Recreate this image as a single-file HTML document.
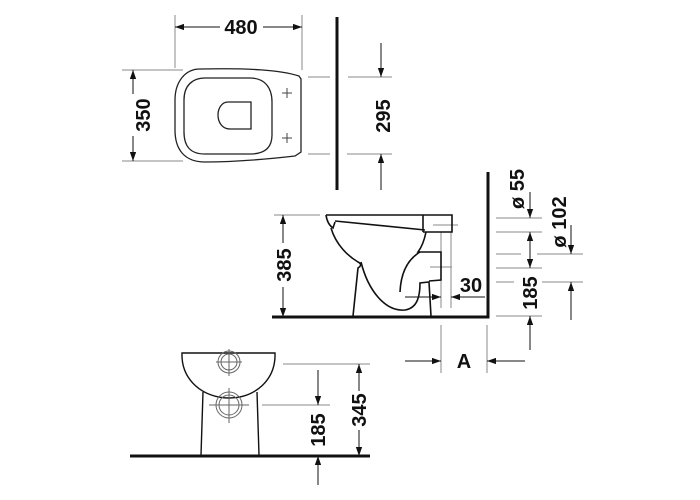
<!DOCTYPE html>
<html><head><meta charset="utf-8"><style>
html,body{margin:0;padding:0;background:#fff;}
svg{display:block}
text{font-family:"Liberation Sans",sans-serif;font-size:20px;font-weight:bold;fill:#111;}
</style></head><body>
<svg width="700" height="500" viewBox="0 0 700 500" xmlns="http://www.w3.org/2000/svg">
<defs>
<marker id="a" viewBox="0 0 10 10" refX="10" refY="5" markerWidth="9" markerHeight="9" markerUnits="userSpaceOnUse" orient="auto-start-reverse"><path d="M0,1.5 L10,5 L0,8.5 z" fill="#111"/></marker>
</defs>
<g fill="none" stroke="#888" stroke-width="1">
<line x1="175" y1="15" x2="175" y2="68"/><line x1="302" y1="15" x2="302" y2="70"/>
<line x1="122" y1="70" x2="183" y2="70"/><line x1="122" y1="161" x2="183" y2="161"/>
<line x1="308" y1="77" x2="330" y2="77"/><line x1="348" y1="77" x2="392" y2="77"/>
<line x1="308" y1="154" x2="330" y2="154"/><line x1="347" y1="154" x2="392" y2="154"/>
<line x1="274" y1="215" x2="320" y2="215"/>
<line x1="496" y1="218" x2="542" y2="218"/><line x1="496" y1="232" x2="542" y2="232"/>
<line x1="496" y1="254" x2="521" y2="254"/><line x1="537" y1="254" x2="583" y2="254"/>
<line x1="496" y1="268" x2="542" y2="268"/>
<line x1="496" y1="282" x2="514" y2="282"/><line x1="542" y1="282" x2="583" y2="282"/>
<line x1="496" y1="316" x2="542" y2="316"/>
<line x1="441" y1="325" x2="441" y2="373"/><line x1="487" y1="325" x2="487" y2="373"/>
<line x1="441" y1="232" x2="441" y2="308"/><line x1="451" y1="232" x2="451" y2="308"/>
<line x1="433" y1="225" x2="458" y2="225"/><line x1="430" y1="267" x2="452" y2="267"/>
<line x1="283" y1="364" x2="370" y2="364"/><line x1="262" y1="405" x2="330" y2="405"/>
</g>
<g fill="none" stroke="#111" stroke-width="1">
<line x1="175" y1="27" x2="220" y2="27" marker-start="url(#a)"/><line x1="263" y1="27" x2="302" y2="27" marker-end="url(#a)"/>
<line x1="133" y1="70" x2="133" y2="94" marker-start="url(#a)"/><line x1="133" y1="136" x2="133" y2="161" marker-end="url(#a)"/>
<line x1="381" y1="43" x2="381" y2="77" marker-end="url(#a)"/><line x1="381" y1="190" x2="381" y2="154" marker-end="url(#a)"/>
<line x1="283" y1="215" x2="283" y2="243" marker-start="url(#a)"/><line x1="283" y1="287" x2="283" y2="317" marker-end="url(#a)"/>
<line x1="530" y1="192" x2="530" y2="218" marker-end="url(#a)"/>
<line x1="530" y1="232" x2="530" y2="268" marker-start="url(#a)" marker-end="url(#a)"/>
<line x1="530" y1="350" x2="530" y2="316" marker-end="url(#a)"/>
<line x1="571" y1="225" x2="571" y2="254" marker-end="url(#a)"/>
<line x1="571" y1="320" x2="571" y2="282" marker-end="url(#a)"/>
<line x1="405" y1="297" x2="441" y2="297" marker-end="url(#a)"/>
<line x1="485" y1="297" x2="451" y2="297" marker-end="url(#a)"/>
<line x1="405" y1="361" x2="441" y2="361" marker-end="url(#a)"/>
<line x1="525" y1="361" x2="487" y2="361" marker-end="url(#a)"/>
<line x1="318" y1="370" x2="318" y2="405" marker-end="url(#a)"/>
<line x1="318" y1="485" x2="318" y2="456" marker-end="url(#a)"/>
<line x1="359" y1="364" x2="359" y2="391" marker-start="url(#a)"/><line x1="359" y1="430" x2="359" y2="456" marker-end="url(#a)"/>
</g>
<g stroke="#111" stroke-width="3" fill="none">
<line x1="337" y1="17" x2="337" y2="190"/>
<polyline points="272,317 488,317 488,172"/>
<line x1="130" y1="456" x2="370" y2="456"/>
</g>
<g fill="none" stroke="#222" stroke-width="1.3">
<path d="M200,69 C250,68 280,70 299,76 L301,79 L301,152 L295,156 C260,160 230,162 205,162 C185,162 175,150 175,130 L175,100 C175,82 185,69 200,69 Z"/>
<path d="M205,78 L250,78 C265,78 272,88 272,102 L272,135 C272,148 264,154 250,154 L205,154 C190,154 184,146 184,132 L184,100 C184,86 192,78 205,78 Z"/>
<path d="M228,102 L251,102 L251,129 L230,129 C222,129 218,122 218,115 C218,108 222,102 228,102 Z"/>
</g>
<g stroke="#444" stroke-width="1"><line x1="282" y1="93" x2="292" y2="93"/><line x1="287" y1="88" x2="287" y2="98"/><line x1="282" y1="138" x2="292" y2="138"/><line x1="287" y1="133" x2="287" y2="143"/></g>
<g fill="none" stroke="#111" stroke-width="1.6">
<path d="M326,215 L452,215 L452,232 L423,232"/>
<path d="M326,215 C327,222 330,226 333,228 L335,222"/>
<line x1="335" y1="221" x2="425" y2="230"/>
<path d="M423,215 L423,232"/>
<path d="M331,228 C336,245 348,256 358,262 C362,264 361,266 358,268 L353,316"/>
<path d="M361,262 C368,290 385,312 405,310 C418,308 420,295 420,283 L429,282 L431,316"/>
<path d="M426,232 C424,242 421,248 418,252 L441,252 L441,280 L429,281"/>
<path d="M400,292 C401,270 410,258 420,252"/>
</g>
<g fill="none" stroke="#111" stroke-width="1.4">
<path d="M182,353 L275,353 C276,380 255,398 229,398 C203,398 181,380 182,353 Z"/>
<path d="M203,392 L201,455 M257,392 L259,455"/>
</g>
<g fill="none" stroke="#666" stroke-width="1">
<circle cx="229" cy="362" r="11"/><circle cx="229" cy="362" r="8"/>
<circle cx="229" cy="405" r="13"/><circle cx="229" cy="405" r="10"/>
<line x1="216" y1="362" x2="242" y2="362"/><line x1="229" y1="349" x2="229" y2="376"/>
<line x1="209" y1="405" x2="249" y2="405"/><line x1="229" y1="388" x2="229" y2="423"/>
</g>
<text x="241" y="34" text-anchor="middle">480</text>
<text transform="translate(150,115) rotate(-90)" text-anchor="middle">350</text>
<text transform="translate(390,116) rotate(-90)" text-anchor="middle">295</text>
<text transform="translate(291,265) rotate(-90)" text-anchor="middle">385</text>
<text x="471" y="292" text-anchor="middle">30</text>
<text transform="translate(524,189) rotate(-90)" text-anchor="middle">ø 55</text>
<text transform="translate(566,222) rotate(-90)" text-anchor="middle">ø 102</text>
<text transform="translate(537,293) rotate(-90)" text-anchor="middle">185</text>
<text x="464" y="368" text-anchor="middle">A</text>
<text transform="translate(325,430) rotate(-90)" text-anchor="middle">185</text>
<text transform="translate(366,410) rotate(-90)" text-anchor="middle">345</text>
</svg>
</body></html>
